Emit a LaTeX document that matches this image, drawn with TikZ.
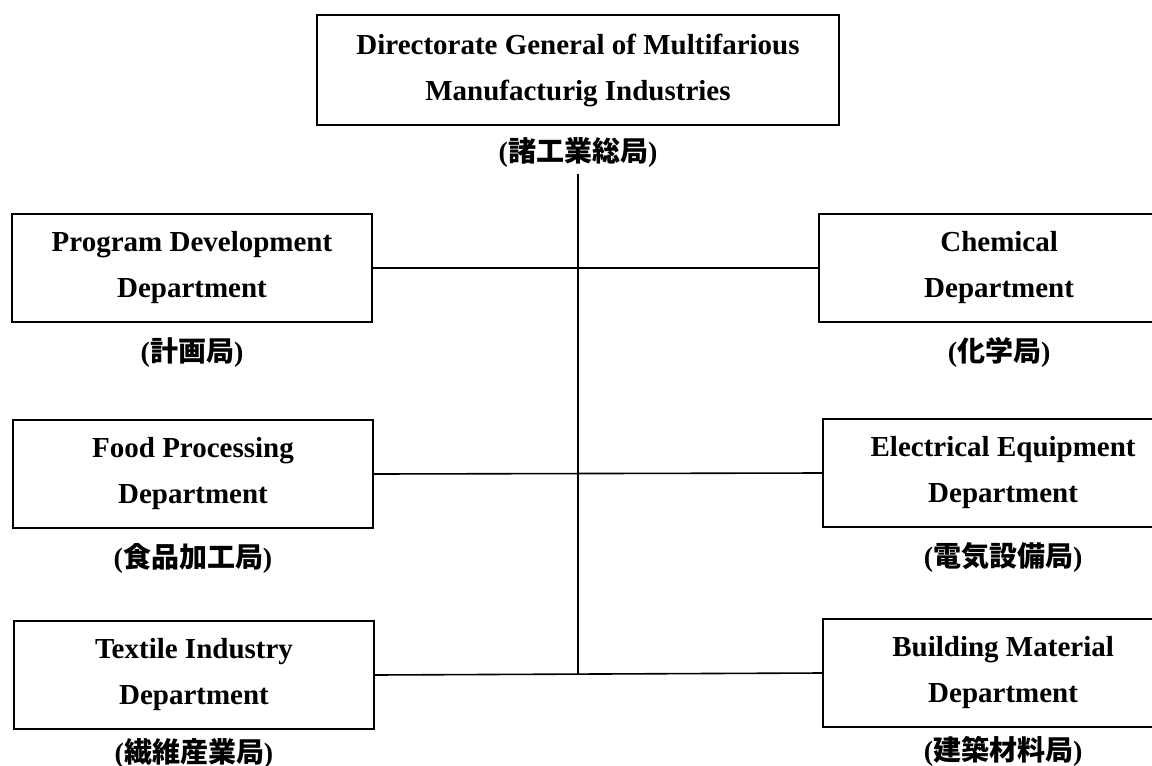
\documentclass[tikz,border=0pt]{standalone}
\usepackage{fontspec}
\setmainfont{Liberation Serif}
\newfontfamily\cjk{Noto Sans CJK JP}
\usetikzlibrary{positioning}

\begin{document}
\begin{tikzpicture}[x=0.5pt, y=-0.5pt,
    dept/.style={draw, line width=1.1pt, minimum width=180pt, minimum height=54pt,
                 align=center, font=\bfseries\fontsize{14.5}{23}\selectfont},
    jname/.style={inner sep=1pt, font=\bfseries\fontsize{14}{16}\selectfont},
    link/.style={line width=0.8pt}]
    \useasboundingbox (0,0) rectangle (1152,766);
    \clip (0,0) rectangle (1152,766);

    % --- 総局 ---
    \node[dept, minimum width=261pt, minimum height=55pt] (dgmmi) at (578,70)
        {Directorate General of Multifarious\\Manufacturig Industries};
    \node[jname, below=4.5pt of dgmmi] (dgmmi-j) {({\cjk 諸工業総局})};

    % --- 左の局 ---
    \node[dept] (prog) at (192,268) {Program Development\\Department};
    \node[jname, below=6pt of prog] (prog-j) {({\cjk 計画局})};
    \node[dept] (food) at (193,474) {Food Processing\\Department};
    \node[jname, below=6pt of food] (food-j) {({\cjk 食品加工局})};
    \node[dept] (text) at (194,675) {Textile Industry\\Department};
    \node[jname, below=3pt of text] (text-j) {({\cjk 繊維産業局})};

    % --- 右の局 (右端は切れている) ---
    \node[dept, anchor=west] (chem) at (818,268) {Chemical\\Department};
    \node[jname, below=6pt of chem] (chem-j) {({\cjk 化学局})};
    \node[dept, anchor=west] (elec) at (822,473) {Electrical Equipment\\Department};
    \node[jname, below=6pt of elec] (elec-j) {({\cjk 電気設備局})};
    \node[dept, anchor=west] (bldg) at (822,673) {Building Material\\Department};
    \node[jname, below=3pt of bldg] (bldg-j) {({\cjk 建築材料局})};

    % --- 幹線と枝 ---
    \coordinate[below=2pt of dgmmi-j] (trunk);
    \draw[line width=1.3pt] (trunk) -- (trunk |- text.east);
    \draw[link] (prog.east) -- (chem.west);
    \draw[link] (food.east) -- (elec.west);
    \draw[link] (text.east) -- (bldg.west);
\end{tikzpicture}
\end{document}
